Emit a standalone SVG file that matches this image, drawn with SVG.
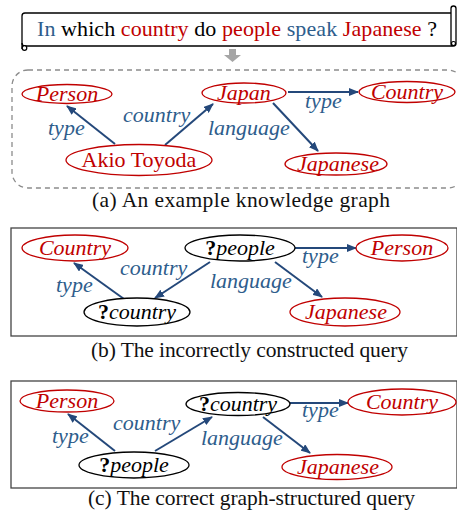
<svg xmlns="http://www.w3.org/2000/svg" width="457" height="514" viewBox="0 0 457 514">
<style>
  text { font-family: 'Liberation Serif', Tinos, 'Times New Roman', serif; font-size: 22px; }
  .red { fill: #c00000; }
  .blk { fill: #000; }
  .lbl { fill: #2e5d8c; font-style: italic; }
  .it { font-style: italic; }
  .cap { fill: #111; font-size: 21.5px; }
  .mid { text-anchor: middle; }
  .er { fill: #fff; stroke: #c00000; stroke-width: 1.3; }
  .eb { fill: #fff; stroke: #000; stroke-width: 1.3; }
  .edge { stroke: #24487a; stroke-width: 2; fill: none; marker-end: url(#ah); }
  .q { font-weight: bold; font-style: normal; }
</style>
<defs>
  <marker id="ah" markerUnits="userSpaceOnUse" markerWidth="10" markerHeight="8" refX="9" refY="4" orient="auto">
    <path d="M0,0 L10,4 L0,8 z" fill="#24487a"/>
  </marker>
</defs>
<rect width="457" height="514" fill="#fff"/>

<!-- question scroll -->
<g id="question">
  <path d="M25,13 L452,13 L452,46 L25,46 Q22,46 22,43 L22,16 Q22,13 25,13 Z" fill="#fff" stroke="#000" stroke-width="1.3"/>
  <path d="M22,43 L22,49" fill="none" stroke="#000" stroke-width="1.3"/>
  <circle cx="24.5" cy="48" r="2.3" fill="#fff" stroke="#000" stroke-width="1.2"/>
  <rect x="451" y="6" width="5" height="40" rx="2.5" fill="#fff" stroke="#000" stroke-width="1.3"/>
  <circle cx="453.5" cy="43.5" r="2" fill="#fff" stroke="#000" stroke-width="1.2"/>
  <text x="37" y="36" textLength="400"><tspan fill="#2e5d8c">In</tspan><tspan fill="#000"> which </tspan><tspan fill="#c00000">country</tspan><tspan fill="#000"> do </tspan><tspan fill="#c00000">people</tspan><tspan fill="#2e5d8c"> speak </tspan><tspan fill="#c00000">Japanese</tspan><tspan fill="#000"> ?</tspan></text>
</g>
<path id="down-arrow" d="M229,49 L236,49 L236,55 L241,55 L232.5,62 L224,55 L229,55 Z" fill="#a6a6a6"/>

<!-- (a) -->
<rect id="frame-a" x="12" y="70" width="452" height="118" rx="16" fill="none" stroke="#8c8c8c" stroke-width="1.3" stroke-dasharray="5,4"/>
<g id="connectors-a">
  <line class="edge" x1="115" y1="144" x2="67" y2="106"/>
  <line class="edge" x1="165" y1="145" x2="213" y2="104"/>
  <line class="edge" x1="288" y1="92" x2="358" y2="92"/>
  <line class="edge" x1="273" y1="103" x2="318" y2="151"/>
  <text class="lbl" x="48" y="135">type</text>
  <text class="lbl" x="123" y="122">country</text>
  <text class="lbl" x="208" y="135">language</text>
  <text class="lbl" x="305" y="108">type</text>
</g>
<g id="a-person"><ellipse class="er" cx="67" cy="94" rx="45" ry="9.5"/><text class="red it mid" x="67" y="101">Person</text></g>
<g id="a-japan"><ellipse class="er" cx="244" cy="93" rx="42" ry="10"/><text class="red it mid" x="244" y="100">Japan</text></g>
<g id="a-country"><ellipse class="er" cx="407" cy="92" rx="48" ry="10.5"/><text class="red it mid" x="407" y="99">Country</text></g>
<g id="a-akio"><ellipse class="er" cx="139" cy="160" rx="73" ry="15.5"/><text class="red mid" x="139" y="167">Akio Toyoda</text></g>
<g id="a-japanese"><ellipse class="er" cx="336" cy="164" rx="51" ry="11"/><text class="red it mid" x="338" y="171">Japanese</text></g>
<text class="cap" x="92" y="207" textLength="298">(a) An example knowledge graph</text>

<!-- (b) -->
<rect id="frame-b" x="11" y="228" width="446" height="108" fill="none" stroke="#444" stroke-width="1.3"/>
<g id="connectors-b">
  <line class="edge" x1="124" y1="299" x2="74" y2="263"/>
  <line class="edge" x1="210" y1="262" x2="155" y2="298"/>
  <line class="edge" x1="295" y1="248" x2="356" y2="248"/>
  <line class="edge" x1="275" y1="262" x2="322" y2="297"/>
  <text class="lbl" x="56" y="292">type</text>
  <text class="lbl" x="120" y="275">country</text>
  <text class="lbl" x="210" y="288">language</text>
  <text class="lbl" x="302" y="263">type</text>
</g>
<g id="b-country"><ellipse class="er" cx="75" cy="248" rx="53" ry="13"/><text class="red it mid" x="75" y="255">Country</text></g>
<g id="b-people"><ellipse class="eb" cx="240" cy="248" rx="55" ry="13"/><text class="blk it mid" x="240" y="255"><tspan class="q">?</tspan>people</text></g>
<g id="b-person"><ellipse class="er" cx="402" cy="248" rx="46" ry="13"/><text class="red it mid" x="402" y="255">Person</text></g>
<g id="b-qcountry"><ellipse class="eb" cx="137" cy="312" rx="53" ry="14"/><text class="blk it mid" x="137" y="319"><tspan class="q">?</tspan>country</text></g>
<g id="b-japanese"><ellipse class="er" cx="345" cy="312" rx="55" ry="14"/><text class="red it mid" x="346" y="319">Japanese</text></g>
<text class="cap" x="91" y="357" textLength="317">(b) The incorrectly constructed query</text>

<!-- (c) -->
<rect id="frame-c" x="11" y="381" width="446" height="107" fill="none" stroke="#444" stroke-width="1.3"/>
<g id="connectors-c">
  <line class="edge" x1="115" y1="451" x2="68" y2="414"/>
  <line class="edge" x1="155" y1="451" x2="212" y2="417"/>
  <line class="edge" x1="290" y1="403" x2="348" y2="403"/>
  <line class="edge" x1="263" y1="417" x2="310" y2="453"/>
  <text class="lbl" x="52" y="443">type</text>
  <text class="lbl" x="113" y="430">country</text>
  <text class="lbl" x="201" y="445">language</text>
  <text class="lbl" x="302" y="417">type</text>
</g>
<g id="c-person"><ellipse class="er" cx="67" cy="401" rx="47" ry="11"/><text class="red it mid" x="67" y="408">Person</text></g>
<g id="c-qcountry"><ellipse class="eb" cx="238" cy="404" rx="52" ry="11.5"/><text class="blk it mid" x="238" y="411"><tspan class="q">?</tspan>country</text></g>
<g id="c-country"><ellipse class="er" cx="402" cy="402" rx="54" ry="13"/><text class="red it mid" x="402" y="409">Country</text></g>
<g id="c-people"><ellipse class="eb" cx="134" cy="465" rx="55" ry="13"/><text class="blk it mid" x="134" y="472"><tspan class="q">?</tspan>people</text></g>
<g id="c-japanese"><ellipse class="er" cx="337" cy="467" rx="55" ry="12.5"/><text class="red it mid" x="338" y="474">Japanese</text></g>
<text class="cap" x="88" y="505" textLength="327">(c) The correct graph-structured query</text>
</svg>
